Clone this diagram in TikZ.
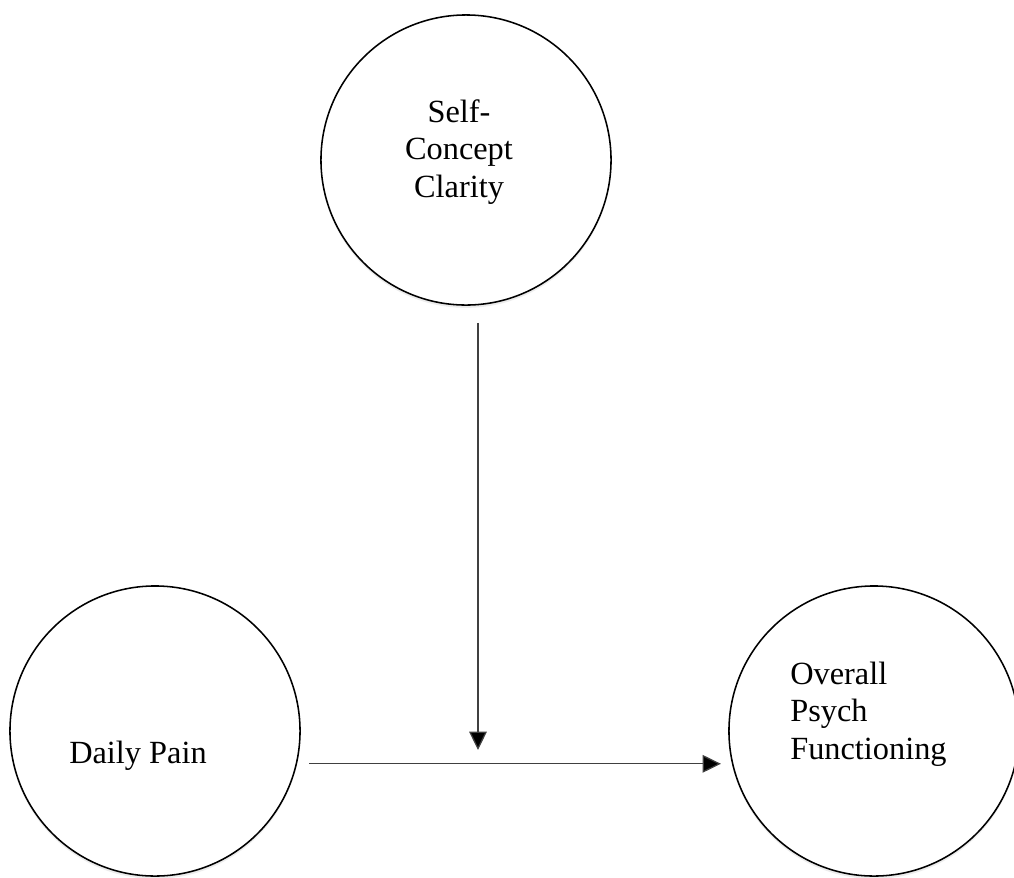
\documentclass[tikz,border=0pt]{standalone}
\usepackage{fontspec}
\setmainfont{Liberation Serif}
\usetikzlibrary{arrows.meta, positioning, shadows}

\begin{document}
\begin{tikzpicture}[
    x=0.025cm, y=-0.025cm,
    every node/.style={font=\fontsize{23}{26.5}\selectfont},
    construct/.style={draw=black, line width=1.1pt, fill=white, circle, minimum size=7.25cm, inner sep=0pt,
        drop shadow={shadow xshift=0pt, shadow yshift=-2pt, opacity=0.15}},
    caption/.style={inner sep=0pt},
    effect/.style={draw=black!75, line width=0.9pt, -{Triangle[length=13pt, width=12.5pt, fill=black]}}
]

    % Rahmen
    \useasboundingbox (0, 0) rectangle (1014, 877);

    % Konstrukte
    \node[construct] (clarity) at (466, 160) {};
    \node[construct] (pain) at (155, 731) {};
    \node[construct] (psych) at (874, 731) {};

    % Beschriftungen
    \node[caption, align=center] (clarityText) at (459, 152) {Self-\\Concept\\Clarity};
    \node[caption, anchor=base] (painText) at (138, 763) {Daily Pain};
    \node[caption, align=left, anchor=west] (psychText) at (790, 714) {Overall\\Psych\\Functioning};

    % Pfade
    \draw[effect, shorten <=0.3cm, shorten >=0.275cm] (pain.-13.5) -- (psych.193.5);
    \coordinate (moderation) at (478, 765);
    \draw[effect, shorten <=0.425cm, shorten >=0.375cm] (clarity.south -| moderation) -- (moderation);

\end{tikzpicture}
\end{document}
